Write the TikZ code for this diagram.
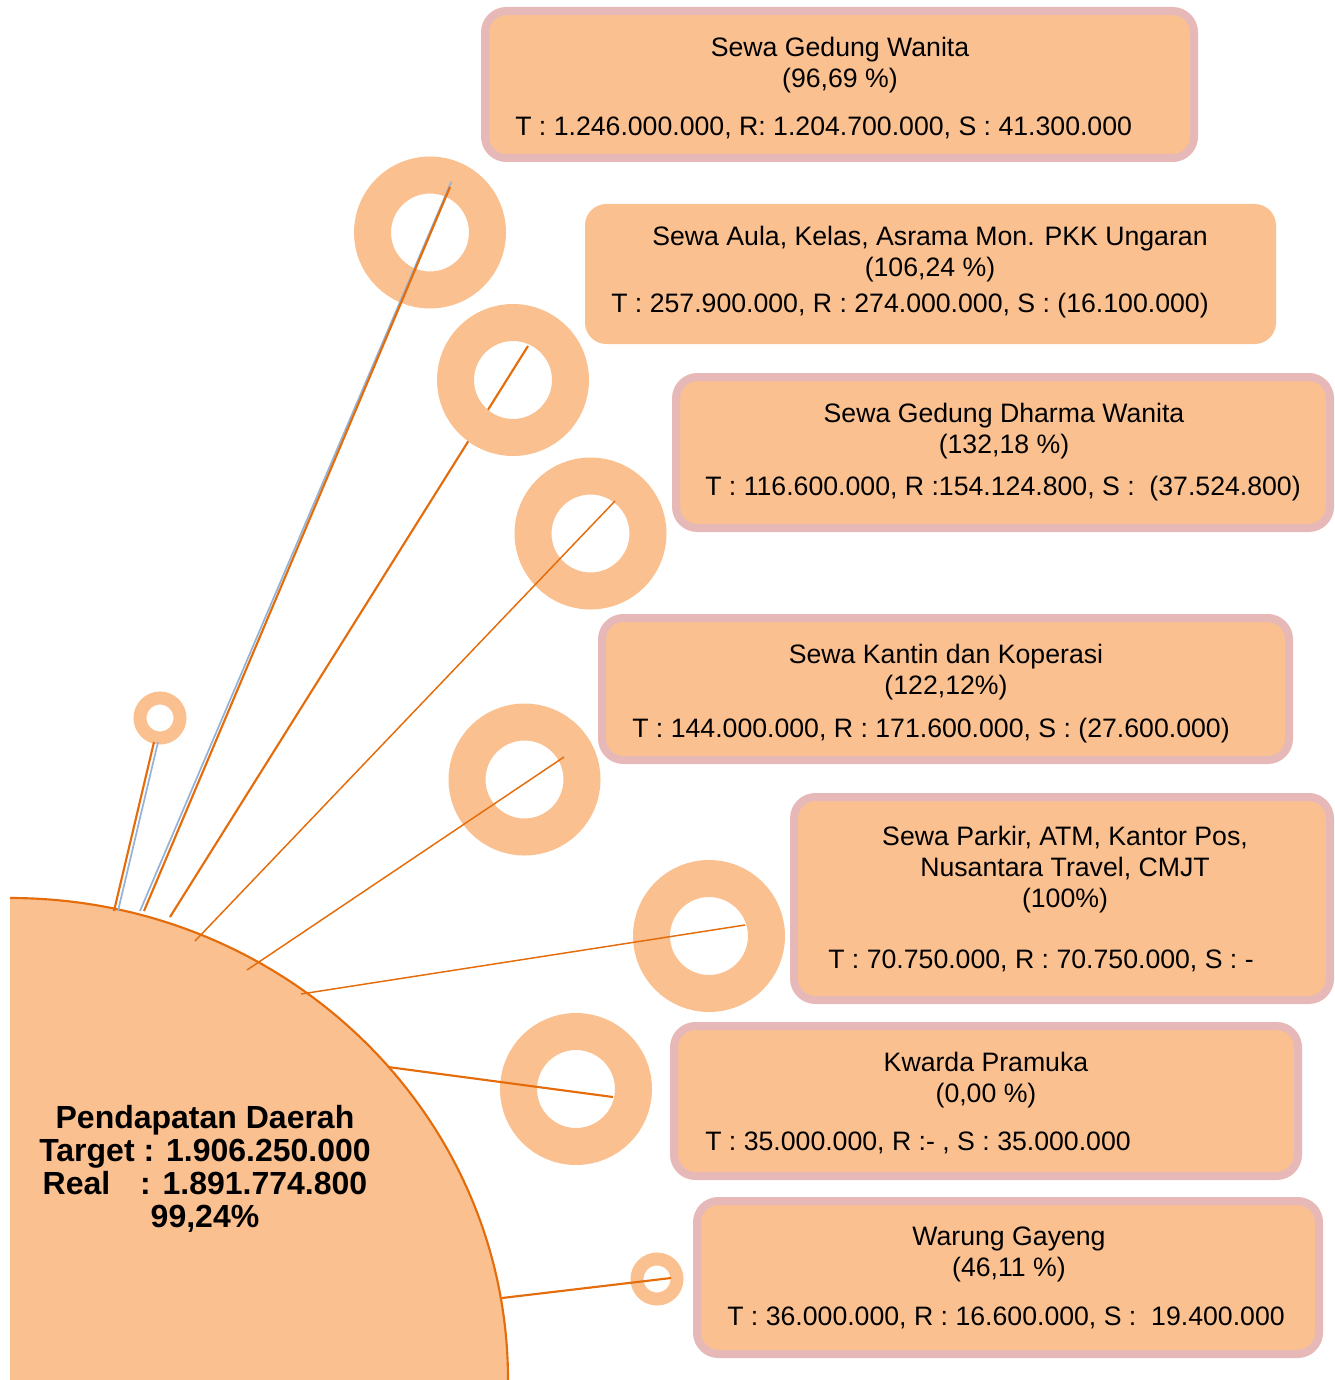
\documentclass[tikz,border=0pt]{standalone}
\usepackage{fontspec}
\setmainfont{Liberation Sans}
\definecolor{peach}{HTML}{FAC090}
\definecolor{rim}{HTML}{E6B9B8}
\definecolor{rust}{HTML}{E46C0A}
\definecolor{steel}{HTML}{95B3D7}

\begin{document}
\begin{tikzpicture}[
    x=0.75pt, y=-0.75pt,
    infobox/.style={rectangle, rounded corners=16pt, fill=peach, draw=rim, line width=6pt, inner sep=0pt},
    ring/.style={circle, draw=peach, line width=27.75pt, minimum size=86.25pt, inner sep=0pt, outer sep=0pt},
    smallring/.style={circle, draw=peach, line width=9.75pt, minimum size=30pt, inner sep=0pt, outer sep=0pt},
    link/.style={draw=rust, line width=1.6pt},
    thinlink/.style={draw=rust, line width=1.1pt},
    shade/.style={draw=steel, line width=1.3pt},
    title/.style={align=center, anchor=north, inner sep=0pt, font=\fontsize{20}{23.25}\selectfont},
    figures/.style={anchor=base west, inner sep=0pt, font=\fontsize{20}{23.25}\selectfont}
]
\useasboundingbox (0,0) rectangle (1334,1380);

% Quarter disc
\fill[peach] (10,1380) -- (10,898) arc[start angle=-90, end angle=0, x radius=498, y radius=482] -- cycle;
\draw[rust, line width=1.6pt] (10,898) arc[start angle=-90, end angle=0, x radius=498, y radius=482];

% Points on the rim and in the rings
\coordinate (a1) at (114,911);
\coordinate (a2) at (144,911);
\coordinate (a3) at (170,917);
\coordinate (a4) at (195,941);
\coordinate (a5) at (247,970);
\coordinate (a6) at (301,994);
\coordinate (a7) at (388,1067);
\coordinate (a8) at (502,1298);
\coordinate (e1) at (154,742);
\coordinate (e2) at (450,187);
\coordinate (e3) at (528,346);
\coordinate (e4) at (615,501);
\coordinate (e5) at (564,757);
\coordinate (e6) at (745,925);
\coordinate (e7) at (613,1097);
\coordinate (e8) at (671,1278);

% Line under the second ring
\draw[link] (a3) -- (e3);

% Rings
\node[smallring] (s1) at (160,718) {};
\node[ring] (r1) at (430,232.5) {};
\node[ring] (r2) at (513,380) {};
\node[ring] (r3) at (590.5,533.5) {};
\node[ring] (r4) at (524.5,779.5) {};
\node[ring] (r5) at (709,936) {};
\node[ring] (r6) at (576,1089) {};
\node[smallring] (s2) at (657,1279) {};

% Lines
\draw[shade] ([xshift=3]a1) -- ([xshift=3]e1);
\draw[shade] ([xshift=-3]a2) -- ([xshift=1,yshift=4]e2);
\draw[link] (a1) -- (e1);
\draw[link] (a2) -- (e2);
\draw[thinlink] (a4) -- (e4);
\draw[thinlink] (a5) -- (e5);
\draw[thinlink] (a6) -- (e6);
\draw[link] (a7) -- (e7);
\draw[link] (a8) -- (e8);

% Boxes
\node[infobox, minimum width=531.75pt, minimum height=110.25pt] (wanita) at (839.5,84.5) {};
\node[title] (wanitaT) at (840,37) {Sewa Gedung Wanita\\(96,69 \%)};
\node[figures] (wanitaV) at (515,135.5) {T : 1.246.000.000, R: 1.204.700.000, S : 41.300.000};

\node[infobox, draw=none, minimum width=518.25pt, minimum height=105pt] (aula) at (930.5,274) {};
\node[title] (aulaT) at (930,226) {Sewa Aula, Kelas, Asrama Mon. PKK Ungaran\\(106,24 \%)};
\node[figures] (aulaV) at (611,312.5) {T : 257.900.000, R : 274.000.000, S : (16.100.000)};

\node[infobox, minimum width=490.5pt, minimum height=113.25pt] (dharma) at (1003,452.5) {};
\node[title] (dharmaT) at (1004,403) {Sewa Gedung Dharma Wanita\\(132,18 \%)};
\node[figures] (dharmaV) at (705,495.5) {T : 116.600.000, R :154.124.800, S :\ \ (37.524.800)};

\node[infobox, minimum width=515.25pt, minimum height=106.5pt] (kantin) at (945.5,689) {};
\node[title] (kantinT) at (946,644) {Sewa Kantin dan Koperasi\\(122,12\%)};
\node[figures] (kantinV) at (632,737.5) {T : 144.000.000, R : 171.600.000, S : (27.600.000)};

\node[infobox, minimum width=402pt, minimum height=152.25pt] (parkir) at (1062,898.5) {};
\node[title] (parkirT) at (1065,826) {Sewa Parkir, ATM, Kantor Pos,\\Nusantara Travel, CMJT\\(100\%)};
\node[figures] (parkirV) at (828,968.5) {T : 70.750.000, R : 70.750.000, S : -};

\node[infobox, minimum width=468pt, minimum height=112.5pt] (pramuka) at (986,1101) {};
\node[title] (pramukaT) at (986,1052) {Kwarda Pramuka\\(0,00 \%)};
\node[figures] (pramukaV) at (705,1150.5) {T : 35.000.000, R :- , S : 35.000.000};

\node[infobox, minimum width=466.5pt, minimum height=114.75pt] (gayeng) at (1008,1277.5) {};
\node[title] (gayengT) at (1009,1227) {Warung Gayeng\\(46,11 \%)};
\node[figures] (gayengV) at (727,1325.5) {T : 36.000.000, R : 16.600.000, S :\ \ 19.400.000};

% Centre text
\node[align=center, anchor=north, inner sep=0pt, font=\fontsize{24}{24.75}\selectfont\bfseries] (pd) at (205,1105) {Pendapatan Daerah\\Target : 1.906.250.000\\Real\hspace{0.93em}: 1.891.774.800\\99,24\%};

\end{tikzpicture}
\end{document}
